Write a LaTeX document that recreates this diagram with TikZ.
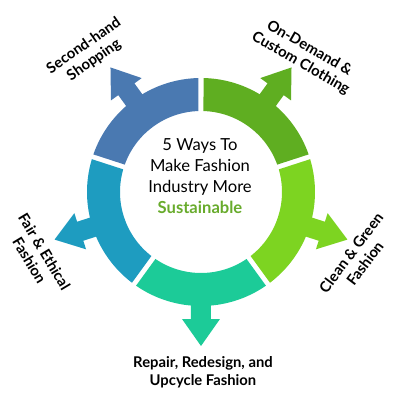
\documentclass[tikz,border=0pt]{standalone}
\usepackage{fontspec}
\setmainfont{Lato}
\usetikzlibrary{calc}
\definecolor{wayblue}{HTML}{4A79B1}
\definecolor{waygreen}{HTML}{5FAE21}
\definecolor{waylime}{HTML}{7DD421}
\definecolor{waymint}{HTML}{1CCB98}
\definecolor{waycyan}{HTML}{1E9CC0}
\definecolor{sustgreen}{HTML}{68AB2C}

\begin{document}
\begin{tikzpicture}[
        x=1pt, y=1pt,
        way label/.style={
          align=center,
          font=\fontsize{14.8}{17.5}\selectfont\bfseries,
          inner sep=0pt,
        },
        center text/.style={
          align=center,
          font=\fontsize{16.6}{21}\selectfont,
        },
        ]
        \useasboundingbox (-201,-208) rectangle (199,192);
        \foreach \mid/\col in {126/wayblue, 54/waygreen, 342/waylime, 270/waymint, 198/waycyan} {
          % ring segment
          \fill[\col] (\mid-34.74:114)
            arc[start angle=\mid-34.74, end angle=\mid+34.74, radius=114]
            -- (\mid+34.23:81)
            arc[start angle=\mid+34.23, end angle=\mid-34.23, radius=81] -- cycle;
          % block arrow
          \fill[\col, rotate=\mid] (100,-10) -- (127,-10) -- (127,-19) -- (154,0)
            -- (127,19) -- (127,10) -- (100,10) -- cycle;
        }
        \node [center text] (title) at (-1,16)
        {5 Ways To\\Make Fashion\\Industry More\\{\bfseries\color{sustgreen}Sustainable}};
        \node [way label, rotate=35] (second-hand) at (-112,139) {Second-hand\\Shopping};
        \node [way label, rotate=-30] (on-demand) at (104,136) {On-Demand \&\\Custom Clothing};
        \node [way label, rotate=53] (clean-green) at (157,-66) {Clean \& Green\\Fashion};
        \node [way label] (repair) at (2,-180) {Repair, Redesign, and\\Upcycle Fashion};
        \node [way label, rotate=-59] (fair-ethical) at (-164,-64) {Fair \& Ethical\\Fashion};
      \end{tikzpicture}
\end{document}
